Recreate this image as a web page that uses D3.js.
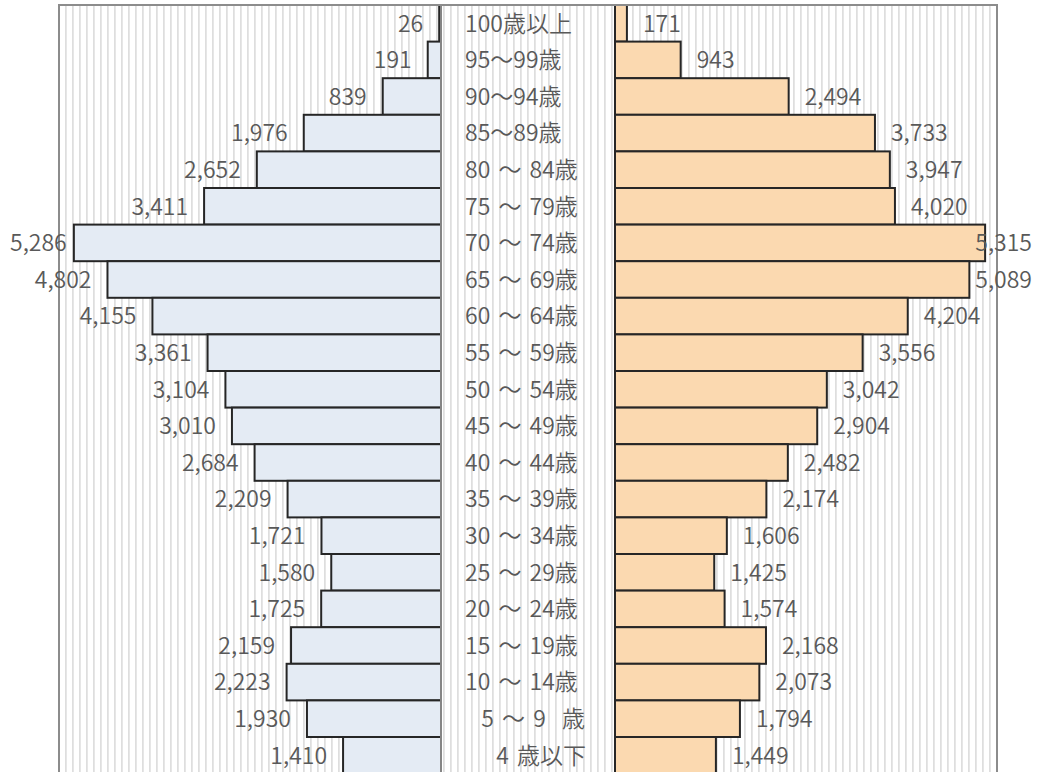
<!DOCTYPE html>
<html lang="ja">
<head>
<meta charset="utf-8">
<script src="https://cdn.jsdelivr.net/npm/d3@7"></script>
<style>
  html, body { margin: 0; padding: 0; background: #ffffff; }
  svg { display: block; }
  text { font-family: "Noto Sans CJK JP", "Noto Sans", sans-serif; fill: #595959; font-weight: 350; }
  .cat { word-spacing: 3px; white-space: pre; }
</style>
</head>
<body>
<svg id="chart" width="1038" height="772"></svg>
<script>
// Age groups, oldest first (top row to bottom row)
const ageGroups = [
  "100歳以上", "95～99歳", "90～94歳", "85～89歳",
  "80 ～ 84歳", "75 ～ 79歳", "70 ～ 74歳", "65 ～ 69歳",
  "60 ～ 64歳", "55 ～ 59歳", "50 ～ 54歳", "45 ～ 49歳",
  "40 ～ 44歳", "35 ～ 39歳", "30 ～ 34歳", "25 ～ 29歳",
  "20 ～ 24歳", "15 ～ 19歳", "10 ～ 14歳",
  "\u00a0\u00a05 ～ 9\u00a0\u00a0歳", "\u3000 4 歳以下"
];
// Population per age group (left side)
const maleValues = [
  26, 191, 839, 1976, 2652, 3411, 5286, 4802, 4155, 3361, 3104,
  3010, 2684, 2209, 1721, 1580, 1725, 2159, 2223, 1930, 1410
];
// Population per age group (right side)
const femaleValues = [
  171, 943, 2494, 3733, 3947, 4020, 5315, 5089, 4204, 3556, 3042,
  2904, 2482, 2174, 1606, 1425, 1574, 2168, 2073, 1794, 1449
];
const axisMax = 5500;

const svg = d3.select("#chart");

// Layout
const plot = { left: 59, right: 997, top: 5 };
const rowStep = 36.6;
const plotBottom = plot.top + rowStep * ageGroups.length;
const leftZero = 441, rightZero = 615;

const y = d3.scaleBand()
  .domain(d3.range(ageGroups.length))
  .range([plot.top, plotBottom])
  .paddingInner(0).paddingOuter(0);

const xLeft = d3.scaleLinear().domain([0, axisMax]).range([leftZero, plot.left]);
const xRight = d3.scaleLinear().domain([0, axisMax]).range([rightZero, 998]);

// Narrow vertical stripe fill for the plot area
const defs = svg.append("defs");
const pat = defs.append("pattern")
  .attr("id", "vstripes")
  .attr("patternUnits", "userSpaceOnUse")
  .attr("width", 7).attr("height", 10);
pat.append("rect").attr("width", 7).attr("height", 10).attr("fill", "#ffffff");
pat.append("rect").attr("x", 2.2).attr("width", 1.4).attr("height", 10).attr("fill", "#d6d6d6");

svg.append("rect")
  .attr("x", plot.left).attr("y", plot.top)
  .attr("width", plot.right - plot.left)
  .attr("height", plotBottom - plot.top)
  .attr("fill", "url(#vstripes)");

const rows = d3.range(ageGroups.length);

// Left bars
svg.append("g").selectAll("rect")
  .data(rows)
  .join("rect")
  .attr("x", i => xLeft(maleValues[i]))
  .attr("y", i => y(i))
  .attr("width", i => leftZero - xLeft(maleValues[i]))
  .attr("height", y.bandwidth())
  .attr("fill", "#e4ebf4")
  .attr("stroke", "#262626")
  .attr("stroke-width", 2);

// Right bars
svg.append("g").selectAll("rect")
  .data(rows)
  .join("rect")
  .attr("x", rightZero)
  .attr("y", i => y(i))
  .attr("width", i => xRight(femaleValues[i]) - rightZero)
  .attr("height", y.bandwidth())
  .attr("fill", "#fbd9b0")
  .attr("stroke", "#262626")
  .attr("stroke-width", 2);

// Left axis line
svg.append("line")
  .attr("x1", leftZero).attr("x2", leftZero)
  .attr("y1", plot.top).attr("y2", plotBottom)
  .attr("stroke", "#a6a6a6").attr("stroke-width", 1.5);

// Plot area border
svg.append("path")
  .attr("d", `M${plot.left},${plotBottom}V${plot.top}H${plot.right}V${plotBottom}`)
  .attr("fill", "none")
  .attr("stroke", "#8c8c8c")
  .attr("stroke-width", 2);

const fmt = d3.format(",");
const fontSize = 23;

// Category labels in the center gap
svg.append("g").selectAll("text")
  .data(rows)
  .join("text")
  .attr("class", "cat")
  .attr("x", 465)
  .attr("y", i => y(i) + y.bandwidth() / 2)
  .attr("dy", "0.36em")
  .attr("font-size", fontSize)
  .text(i => ageGroups[i]);

// Value labels, left side
svg.append("g").selectAll("text")
  .data(rows)
  .join("text")
  .attr("y", i => y(i) + y.bandwidth() / 2)
  .attr("dy", "0.36em")
  .attr("font-size", fontSize)
  .attr("text-anchor", "start")
  .text(i => fmt(maleValues[i]))
  .each(function(i) {
    const w = this.getComputedTextLength();
    const x = Math.max(10, xLeft(maleValues[i]) - 16 - w);
    d3.select(this).attr("x", x);
  });

// Value labels, right side
svg.append("g").selectAll("text")
  .data(rows)
  .join("text")
  .attr("y", i => y(i) + y.bandwidth() / 2)
  .attr("dy", "0.36em")
  .attr("font-size", fontSize)
  .attr("text-anchor", "start")
  .text(i => fmt(femaleValues[i]))
  .each(function(i) {
    const w = this.getComputedTextLength();
    const x = Math.min(1032 - w, xRight(femaleValues[i]) + 16);
    d3.select(this).attr("x", x);
  });
</script>
</body>
</html>
